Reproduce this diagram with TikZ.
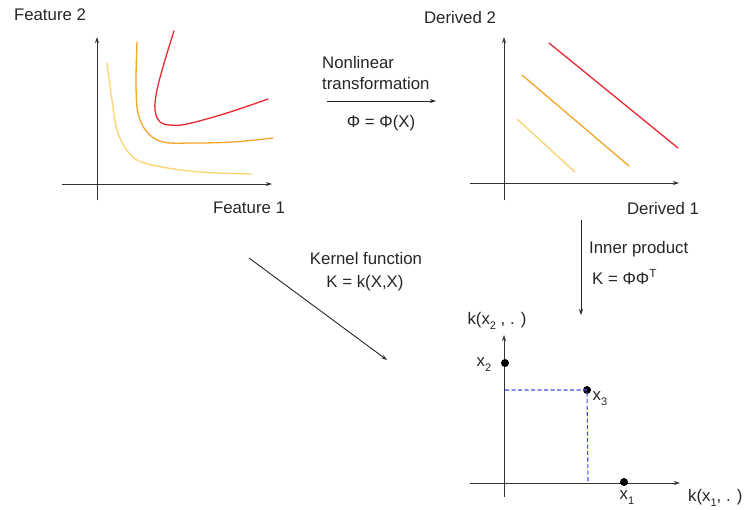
\documentclass[tikz,border=0pt]{standalone}
\usepackage{fontspec}
\setmainfont{Liberation Sans}
\usetikzlibrary{arrows.meta}
\definecolor{cred}{RGB}{235,40,50}
\definecolor{corange}{RGB}{245,165,40}
\definecolor{cyellow}{RGB}{252,210,110}
\definecolor{cblue}{RGB}{70,70,240}
\newcommand{\lowsub}[1]{\raisebox{-5pt}{\fontsize{11}{11}\selectfont #1}}
\begin{document}
\begin{tikzpicture}[x=1pt,y=-1pt,
  lbl/.style={font=\fontsize{16.8}{21}\selectfont, inner sep=0pt, text=black!85},
  axis/.style={draw=black!80, line width=0.9pt},
  axarrow/.style={axis, -{Stealth[length=6pt,width=4pt]}},
  curve/.style={line width=1.3pt, line cap=round},
  trans/.style={draw=black!85, line width=0.9pt, -{Stealth[length=6pt,width=4pt]}},
  dot/.style={circle, fill=black, inner sep=0pt, minimum size=8pt},
  guide/.style={draw=cblue, line width=1.1pt, dash pattern=on 4pt off 2.5pt}]
\useasboundingbox (0,0) rectangle (744,509);
% ---- left plot
\coordinate (A1s) at (97,200); \coordinate (A1e) at (97,37);
\coordinate (B1s) at (62,184); \coordinate (B1e) at (272,184);
\draw[axarrow] (A1s) -- (A1e);
\draw[axarrow] (B1s) -- (B1e);
\draw[curve, cyellow] plot[smooth, tension=0.6] coordinates {(107,63) (112,100) (118,133) (133,157) (157,166) (200,172) (252,174)};
\draw[curve, corange] plot[smooth, tension=0.6] coordinates {(137,42) (136,83) (138,113) (147,132) (163,142) (193,143) (233,142) (273,138)};
\draw[curve, cred] plot[smooth, tension=0.6] coordinates {(174,31) (165,60) (157,90) (155,110) (160,122) (170,125) (187,124) (227,113) (268,99)};
\node[lbl] (f2) at (50,15) {Feature 2};
\node[lbl] (f1) at (249,208) {Feature 1};
% ---- right plot
\coordinate (A2s) at (504,200); \coordinate (A2e) at (504,37);
\coordinate (B2s) at (470,183); \coordinate (B2e) at (679,183);
\draw[axarrow] (A2s) -- (A2e);
\draw[axarrow] (B2s) -- (B2e);
\coordinate (r1) at (549,43); \coordinate (r2) at (678,148);
\coordinate (o1) at (522,75); \coordinate (o2) at (629,166);
\coordinate (y1) at (517,119); \coordinate (y2) at (575,172);
\draw[curve, cred] (r1) -- (r2);
\draw[curve, corange] (o1) -- (o2);
\draw[curve, cyellow] (y1) -- (y2);
\node[lbl] (d2) at (460,17) {Derived 2};
\node[lbl] (d1) at (663,208) {Derived 1};
% ---- nonlinear transformation
\node[lbl, align=left, anchor=west] (nl) at (322,72.5) {Nonlinear\\transformation};
\coordinate (t1) at (327,101); \coordinate (t2) at (436,101);
\draw[trans] (t1) -- (t2);
\node[lbl] (phi) at (381,123) {Φ = Φ(X)};
% ---- kernel function
\coordinate (k1) at (249,258); \coordinate (k2) at (387,360);
\draw[trans] (k1) -- (k2);
\node[lbl] (kf) at (366,258) {Kernel function};
\node[lbl] (kx) at (365,283) {K = k(X,X)};
% ---- inner product
\coordinate (i1) at (581,220); \coordinate (i2) at (581,315);
\draw[trans] (i1) -- (i2);
\node[lbl, anchor=west] (ip) at (589,249) {Inner product};
\node[lbl, anchor=west] (kp) at (592,277) {K = ΦΦ\textsuperscript{T}};
% ---- bottom plot
\coordinate (A3s) at (504,497); \coordinate (A3e) at (504,335);
\coordinate (B3s) at (470,483); \coordinate (B3e) at (680,483);
\draw[axarrow] (A3s) -- (A3e);
\draw[axarrow] (B3s) -- (B3e);
\coordinate (h0) at (505,390); \coordinate (v0) at (588,483);
\node[dot] (x3) at (587,390) {};
\draw[guide] (h0) -- (x3.center) -- (v0);
\node[dot] (x2) at (505,363) {};
\node[dot] (x1) at (624,482) {};
\node[lbl] (lx2) at (484,365) {x\lowsub{2}};
\node[lbl] (lx3) at (600,399) {x\lowsub{3}};
\node[lbl] (lx1) at (627,498) {x\lowsub{1}};
\node[lbl] (ky) at (497,321) {k(x\lowsub{2} , . )};
\node[lbl, anchor=west] (kxl) at (688,498) {k(x\lowsub{1}, . )};
\end{tikzpicture}
\end{document}
